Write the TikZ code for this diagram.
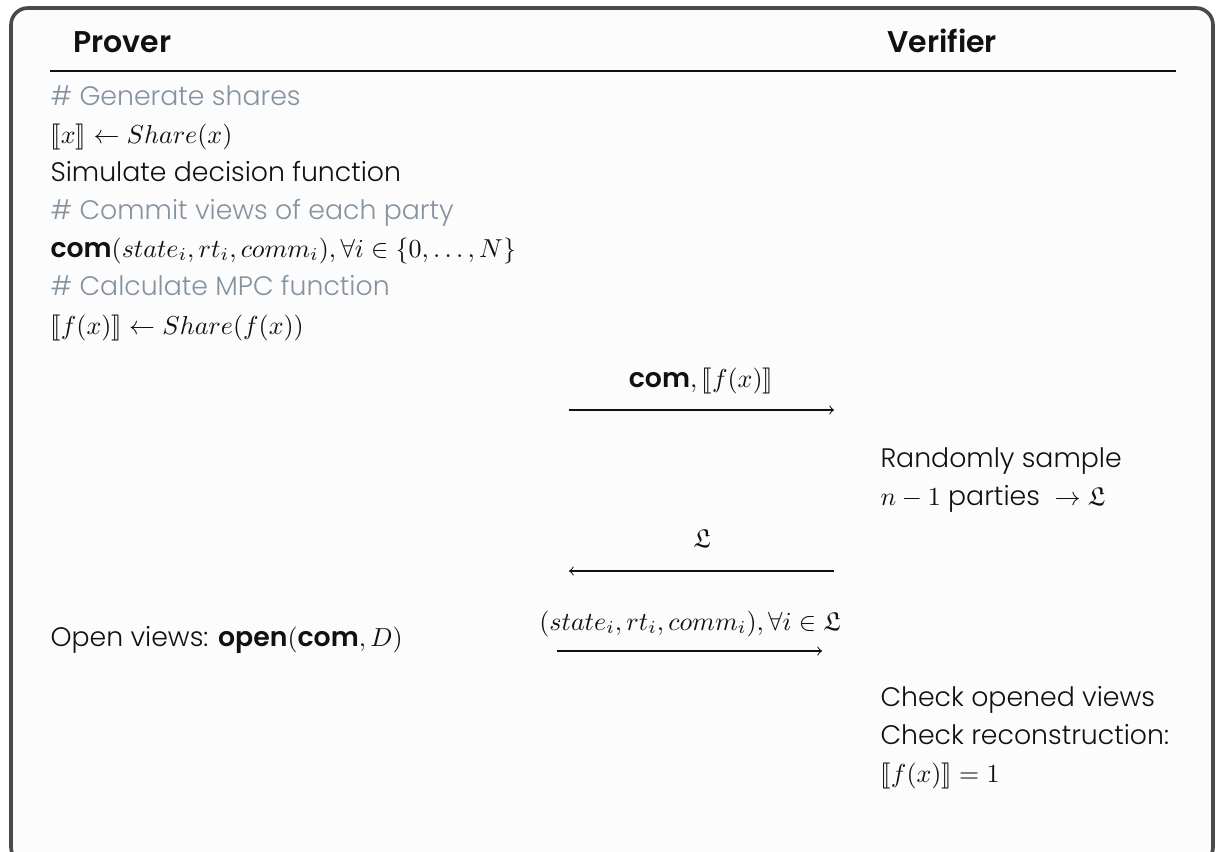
\documentclass[tikz,border=0pt]{standalone}
\usepackage{amsmath,amssymb}
\usepackage{stmaryrd}
\usepackage[no-math]{fontspec}
\setmainfont{Poppins}[UprightFont=* Light, BoldFont=* SemiBold, Scale=1.03]
\usepackage{tikz}
\definecolor{frame}{HTML}{4A4A4A}
\definecolor{paper}{HTML}{FCFCFC}
\definecolor{ink}{HTML}{111111}
\definecolor{note}{HTML}{8592A0}
\tikzset{
	txt/.style={anchor=base west,inner sep=0pt,text=ink},
	cmt/.style={txt,text=note},
	head/.style={txt,font=\fontsize{11.2}{14}\selectfont\bfseries},
	lbl/.style={anchor=base,inner sep=0pt,text=ink},
	msg/.style={->,draw=ink,line width=0.4pt}
}

\begin{document}
\begin{tikzpicture}[x=0.385pt,y=-0.385pt]
		\clip (0,0) rectangle (1223,852);
		\fill[white] (0,0) rectangle (1223,852);
		\draw[frame,fill=paper,line width=1.4pt,rounded corners=6.5pt] (11,8) rectangle (1213,864);
		\node (prover) [head, at={(73,52)}] {Prover};
		\node (verifier) [head, at={(887,52)}] {Verifier};
		\coordinate (rulel) at (50,71);
		\coordinate (ruler) at (1176,71);
		\draw[ink,line width=0.4pt] (rulel)--(ruler);
		\node (c1) [cmt, at={(50,106)}] {\# Generate shares};
		\node (l1) [txt, at={(50,143)}] {$\llbracket x\rrbracket \leftarrow Share(x)$};
		\node (l2) [txt, at={(50,181)}] {Simulate decision function};
		\node (c2) [cmt, at={(50,219)}] {\# Commit views of each party};
		\node (l3) [txt, at={(50,257)}] {\textbf{com}$(state_i, rt_i, comm_i), \forall i \in \{0, \ldots, N\}$};
		\node (c3) [cmt, at={(50,295)}] {\# Calculate MPC function};
		\node (l4) [txt, at={(50,334)}] {$\llbracket f(x)\rrbracket \leftarrow Share(f(x))$};
		\coordinate (m1a) at (569,410);
		\coordinate (m1b) at (834,410);
		\draw[msg] (m1a)--(m1b);
		\node (m1) [lbl, at={(701,387)}] {\textbf{com}$, \llbracket f(x)\rrbracket$};
		\node (v1) [txt, at={(880,467)}] {Randomly sample};
		\node (v2) [txt, at={(880,505)}] {$n-1$ parties \ $\rightarrow \mathfrak{L}$};
		\coordinate (m2a) at (834,571);
		\coordinate (m2b) at (569,571);
		\draw[msg] (m2a)--(m2b);
		\node (m2) [lbl, at={(702,547)}] {$\mathfrak{L}$};
		\node (open) [txt, at={(50,646)}] {Open views: \textbf{open}$($\textbf{com}$, D)$};
		\coordinate (m3a) at (557,651);
		\coordinate (m3b) at (822,651);
		\draw[msg] (m3a)--(m3b);
		\node (m3) [lbl, at={(690,630)}] {$(state_i, rt_i, comm_i), \forall i \in \mathfrak{L}$};
		\node (v3) [txt, at={(880,706)}] {Check opened views};
		\node (v4) [txt, at={(880,744)}] {Check reconstruction:};
		\node (v5) [txt, at={(880,782)}] {$\llbracket f(x)\rrbracket = 1$};
\end{tikzpicture}
\end{document}
